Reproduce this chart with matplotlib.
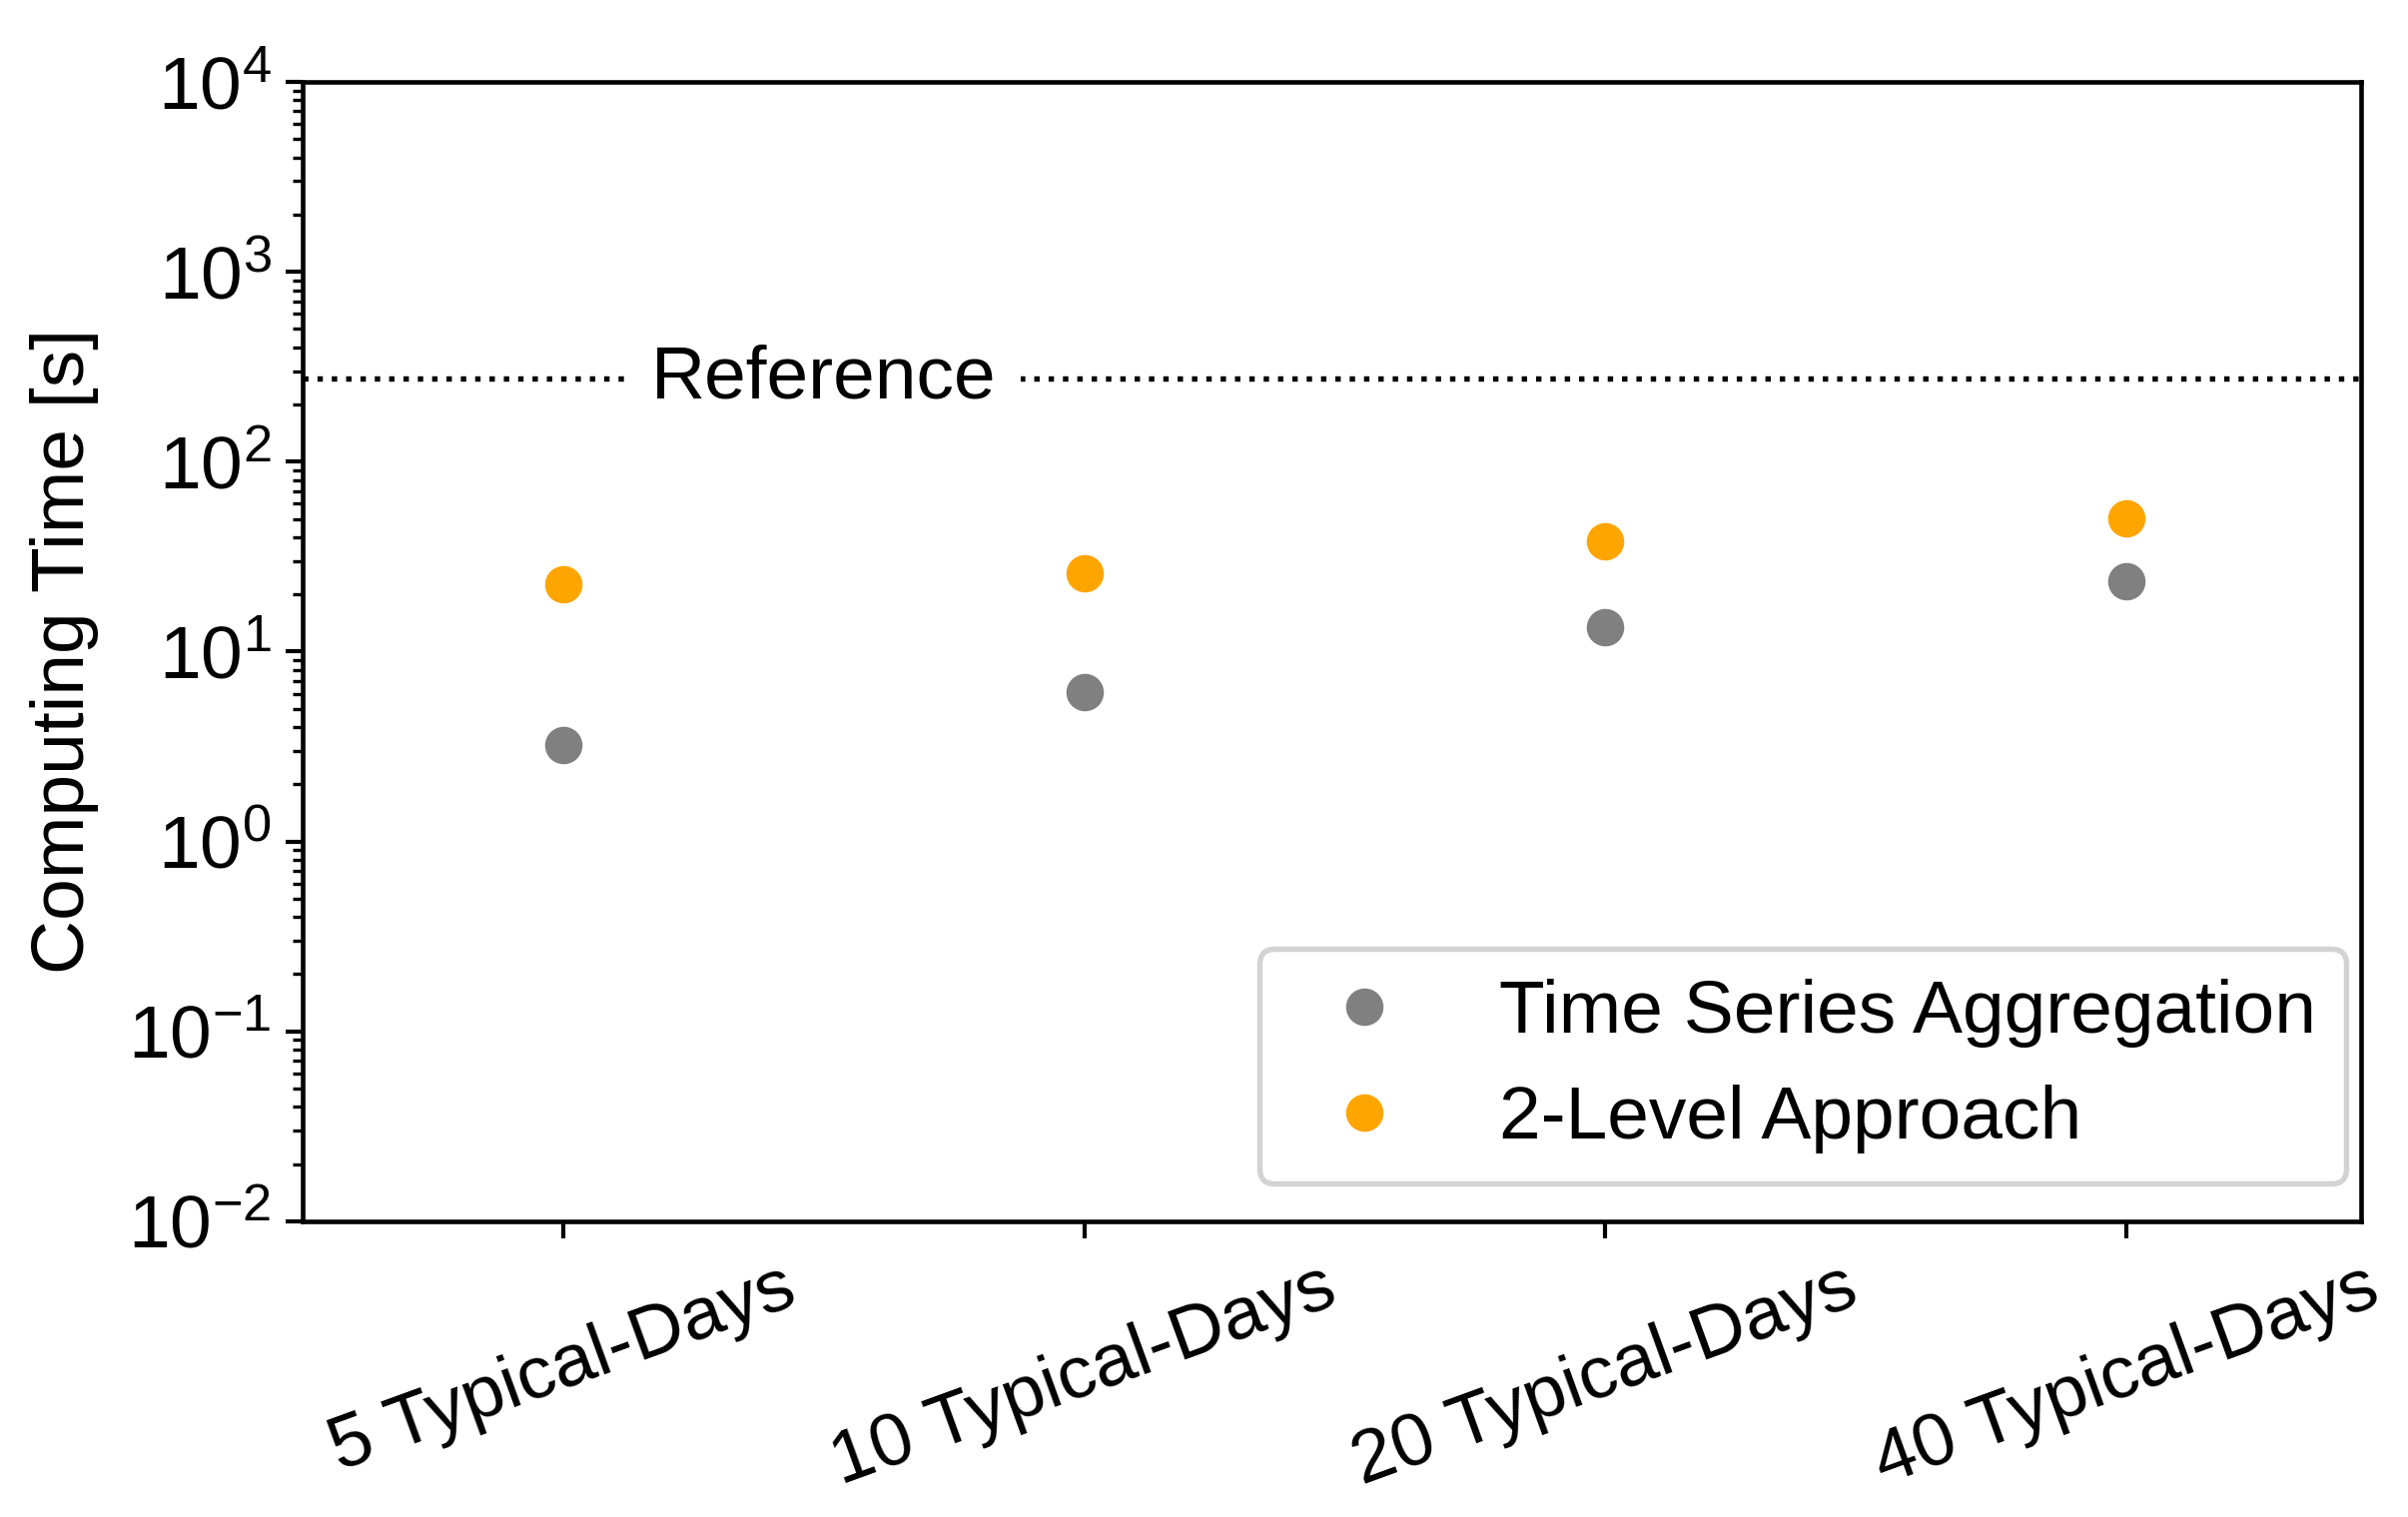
import matplotlib
matplotlib.use('Agg')
import matplotlib.pyplot as plt

plt.rcParams['font.family'] = ['Liberation Sans', 'DejaVu Sans']
plt.rcParams['mathtext.fontset'] = 'custom'
plt.rcParams['mathtext.rm'] = 'Liberation Sans'
plt.rcParams['mathtext.it'] = 'Liberation Sans:italic'
plt.rcParams['font.size'] = 18

# Data
categories = ['5 Typical-Days', '10 Typical-Days', '20 Typical-Days', '40 Typical-Days']
tsa_times = [3.2, 6.1, 13.5, 23.5]
two_level_times = [22.5, 26.0, 38.0, 50.5]
reference_time = 275

DPI = 300
fig = plt.figure(figsize=(2412 / DPI, 1519 / DPI), dpi=DPI)
ax = fig.add_axes([0.1256, 0.195, 0.8544, 0.751])

x = range(len(categories))
ax.plot(x, tsa_times, 'o', color='grey', markersize=8, label='Time Series Aggregation')
ax.plot(x, two_level_times, 'o', color='orange', markersize=8, label='2-Level Approach')

ax.axhline(reference_time, color='black', linestyle=':', linewidth=1.3, zorder=1)
ax.text(0.5, reference_time, 'Reference', ha='center', va='center', fontsize=18,
        bbox=dict(facecolor='white', edgecolor='none', pad=6), zorder=2)

ax.set_yscale('log')
ax.set_ylim(1e-2, 1e4)
ax.set_xlim(-0.5, 3.45)
ax.set_xticks(list(x))
ax.set_xticklabels(categories, rotation=20, ha='center')
ax.set_ylabel('Computing Time [s]', labelpad=7)

ax.tick_params(axis='both', which='major', length=4, width=1.0)
ax.tick_params(axis='y', which='minor', length=2.5, width=0.8)
for s in ax.spines.values():
    s.set_linewidth(1.1)

leg = ax.legend(loc='lower right', bbox_to_anchor=(1.011, 0.0), fontsize=18)
leg.get_frame().set_edgecolor('#c8c8c8')
leg.get_frame().set_linewidth(1.3)

plt.savefig('out.png', dpi=DPI)
